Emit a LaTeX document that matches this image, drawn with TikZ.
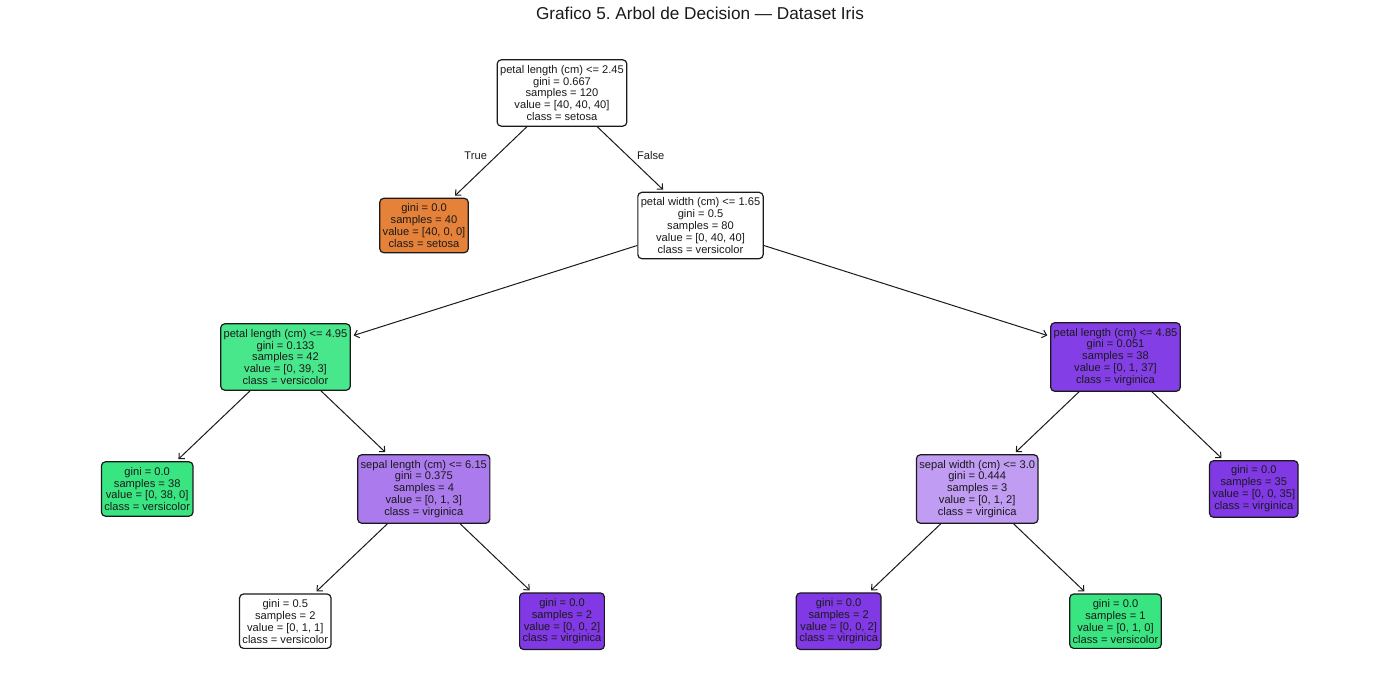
\documentclass[tikz,border=0pt]{standalone}
\usepackage{fontspec}
\setmainfont{Liberation Sans}
\usetikzlibrary{arrows.meta}
\frenchspacing
\definecolor{setosa}{HTML}{E58139}
\definecolor{vers}{HTML}{39E581}
\definecolor{virg}{HTML}{8139E5}
\definecolor{versA}{HTML}{48E78B}
\definecolor{virgA}{HTML}{843EE6}
\definecolor{virgB}{HTML}{AB7BEE}
\definecolor{virgC}{HTML}{C09CF2}
\definecolor{inkc}{HTML}{1A1A1A}
\tikzset{
  tn/.style={draw=inkc, line width=0.9pt, rounded corners=3pt, align=center,
    inner xsep=2.2pt, inner ysep=3.9pt, text=inkc,
    font=\fontsize{8.35}{8.95}\selectfont},
  edge/.style={draw=inkc, line width=0.75pt, -{Straight Barb[length=3.2pt,width=6pt]}, shorten >=2.2pt},
  lbl/.style={text=inkc, font=\fontsize{8.35}{8.95}\selectfont, inner sep=0pt},
  ttl/.style={text=inkc, font=\fontsize{12.9}{14}\selectfont, inner sep=0pt, anchor=base}
}
\begin{document}
\begin{tikzpicture}[x=0.75pt, y=-0.75pt]
\useasboundingbox (0,0) rectangle (1400,696);
\node[ttl] (title) at (700,20) {Grafico 5. Arbol de Decision — Dataset Iris};
% level 0
\node[tn, fill=white] (n0) at (562,93) {petal length (cm) <= 2.45\\gini = 0.667\\samples = 120\\value = [40, 40, 40]\\class = setosa};
% level 1
\node[tn, fill=setosa] (n1) at (424,225.5) {gini = 0.0\\samples = 40\\value = [40, 0, 0]\\class = setosa};
\node[tn, fill=white] (n2) at (700.5,225.5) {petal width (cm) <= 1.65\\gini = 0.5\\samples = 80\\value = [0, 40, 40]\\class = versicolor};
% level 2
\node[tn, fill=versA] (n3) at (285.5,357) {petal length (cm) <= 4.95\\gini = 0.133\\samples = 42\\value = [0, 39, 3]\\class = versicolor};
\node[tn, fill=virgA] (n4) at (1115.5,357) {petal length (cm) <= 4.85\\gini = 0.051\\samples = 38\\value = [0, 1, 37]\\class = virginica};
% level 3
\node[tn, fill=vers] (n5) at (147.2,489) {gini = 0.0\\samples = 38\\value = [0, 38, 0]\\class = versicolor};
\node[tn, fill=virgB] (n6) at (423.8,489) {sepal length (cm) <= 6.15\\gini = 0.375\\samples = 4\\value = [0, 1, 3]\\class = virginica};
\node[tn, fill=virgC] (n7) at (977.2,489) {sepal width (cm) <= 3.0\\gini = 0.444\\samples = 3\\value = [0, 1, 2]\\class = virginica};
\node[tn, fill=virg] (n8) at (1253.8,489) {gini = 0.0\\samples = 35\\value = [0, 0, 35]\\class = virginica};
% level 4
\node[tn, fill=white] (n9) at (285.3,621.2) {gini = 0.5\\samples = 2\\value = [0, 1, 1]\\class = versicolor};
\node[tn, fill=virg] (n10) at (562,621.2) {gini = 0.0\\samples = 2\\value = [0, 0, 2]\\class = virginica};
\node[tn, fill=virg] (n11) at (838.7,621.2) {gini = 0.0\\samples = 2\\value = [0, 0, 2]\\class = virginica};
\node[tn, fill=vers] (n12) at (1115.5,621.2) {gini = 0.0\\samples = 1\\value = [0, 1, 0]\\class = versicolor};
% edges
\draw[edge] (n0) -- (n1);
\draw[edge] (n0) -- (n2);
\draw[edge] (n2) -- (n3);
\draw[edge] (n2) -- (n4);
\draw[edge] (n3) -- (n5);
\draw[edge] (n3) -- (n6);
\draw[edge] (n4) -- (n7);
\draw[edge] (n4) -- (n8);
\draw[edge] (n6) -- (n9);
\draw[edge] (n6) -- (n10);
\draw[edge] (n7) -- (n11);
\draw[edge] (n7) -- (n12);
% edge labels
\node[lbl] (ltrue) at (475.7,155.7) {True};
\node[lbl] (lfalse) at (650.7,155.7) {False};
\end{tikzpicture}
\end{document}
